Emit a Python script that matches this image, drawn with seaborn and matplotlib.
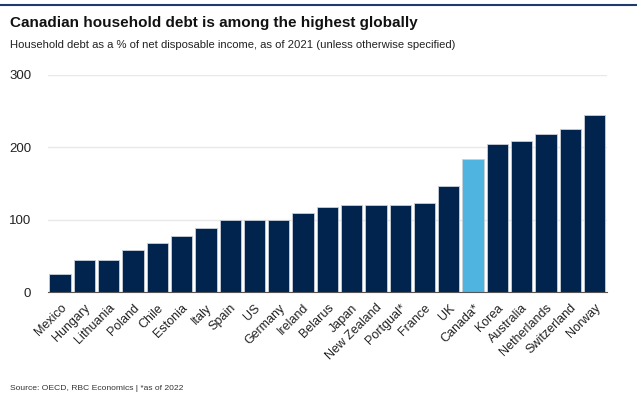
import matplotlib
matplotlib.use("Agg")
import matplotlib.pyplot as plt
import seaborn as sns
import pandas as pd

countries = ["Mexico", "Hungary", "Lithuania", "Poland", "Chile", "Estonia", "Italy", "Spain",
             "US", "Germany", "Ireland", "Belarus", "Japan", "New Zealand", "Portgual*", "France",
             "UK", "Canada*", "Korea", "Australia", "Netherlands", "Switzerland", "Norway"]
debt = [25, 44, 44, 58, 68, 78, 89, 100, 100, 100, 109, 117, 120, 120, 121, 123,
        146, 184, 204, 209, 219, 225, 244]
highlight = "Canada*"
yticks = [0, 100, 200, 300]

navy = "#00244E"
light = "#4FB4E0"

sns.set_theme(style="white")
plt.rcParams['font.family'] = ['Liberation Sans', 'DejaVu Sans']

df = pd.DataFrame({"country": countries, "debt": debt})
palette = {c: (light if c == highlight else navy) for c in countries}

fig = plt.figure(figsize=(6.37, 4.18), dpi=100)
ax = fig.add_axes([0.0754, 0.301, 0.877, 0.52])
sns.barplot(data=df, x="country", y="debt", hue="country", palette=palette,
            legend=False, ax=ax, width=0.88, saturation=1,
            edgecolor="#c9d0d8", linewidth=0.6)

ax.set_ylim(0, 300)
ax.set_yticks(yticks)
ax.set_yticklabels([str(v) for v in yticks], fontsize=9.5, color="#222222")
ax.set_xlim(-0.5, len(countries) - 0.5)
ax.grid(axis="y", color="#e8e8e8", linewidth=1)
ax.set_axisbelow(True)
for s in ["top", "right", "left"]:
    ax.spines[s].set_visible(False)
ax.spines["bottom"].set_color("#555555")
ax.spines["bottom"].set_linewidth(0.8)
ax.tick_params(axis="y", length=0, pad=12)
ax.set_xlabel("")
ax.set_ylabel("")
ax.set_xticks(range(len(countries)))
ax.set_xticklabels(countries, rotation=45, ha="right", rotation_mode="anchor",
                   fontsize=9, color="#222222")
ax.tick_params(axis="x", length=0, pad=7)

fig.text(10 / 637, 1 - 23 / 418, "Canadian household debt is among the highest globally",
         fontsize=11, fontweight="bold", color="#111111", va="center", ha="left")
fig.text(10 / 637, 1 - 45 / 418,
         "Household debt as a % of net disposable income, as of 2021 (unless otherwise specified)",
         fontsize=8.15, color="#222222", va="center", ha="left")
fig.text(10 / 637, 1 - 389 / 418, "Source: OECD, RBC Economics | *as of 2022",
         fontsize=6.1, color="#333333", va="center", ha="left")

fig.add_artist(plt.Line2D([0, 1], [1 - 5 / 418, 1 - 5 / 418], transform=fig.transFigure,
                          color="#1F3A6E", linewidth=1.5))

fig.savefig("out.png", dpi=100)
